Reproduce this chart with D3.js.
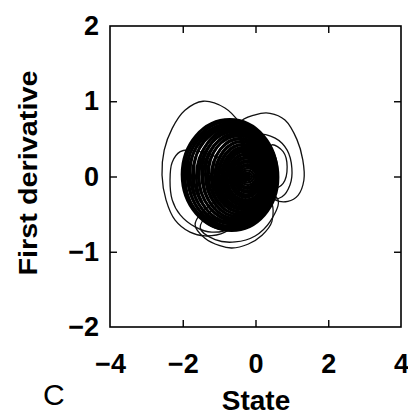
<!DOCTYPE html>
<html>
<head>
<meta charset="utf-8">
<script src="https://cdn.jsdelivr.net/npm/d3@7"></script>
<style>
body { margin: 0; background: #fff; }
text { font-family: "Liberation Sans", Arial, sans-serif; fill: #000; }
</style>
</head>
<body>
<svg width="408" height="416"></svg>
<script>
var xTicks = [-4, -2, 0, 2, 4];
var yTicks = [-2, -1, 0, 1, 2];

// dense core: each turn of the orbit given by its extremes
var coreLeft   = [-2.02,-1.97,-1.93,-1.88,-1.84,-1.80,-1.74,-1.70,-1.63,-1.58,-1.55,-1.48,-1.44,-1.38,-1.33,-1.29,-1.22,-1.18,-1.12,-1.08,-1.03,-0.99,-0.94,-0.90,-0.86,-0.81,-0.77,-0.72,-0.69,-0.64,-0.60,-0.56,-0.52,-0.48,-0.44,-0.40,-0.36,-0.32,-0.30];
var coreRight  = [0.60,0.56,0.62,0.52,0.58,0.49,0.55,0.47,0.53,0.44,0.50,0.42,0.47,0.39,0.45,0.36,0.41,0.34,0.38,0.31,0.35,0.28,0.30,0.25,0.27,0.21,0.23,0.17,0.19,0.13,0.14,0.09,0.08,0.03,0.02,-0.04,-0.10,-0.16,-0.20];
var coreTop    = [0.76,0.73,0.70,0.74,0.68,0.71,0.66,0.69,0.63,0.65,0.60,0.62,0.57,0.58,0.54,0.55,0.50,0.51,0.47,0.46,0.43,0.42,0.39,0.37,0.35,0.33,0.30,0.29,0.26,0.24,0.21,0.19,0.16,0.14,0.11,0.08,0.05,0.03,0.01];
var coreBottom = [-0.71,-0.68,-0.72,-0.66,-0.69,-0.63,-0.67,-0.61,-0.64,-0.58,-0.60,-0.56,-0.57,-0.53,-0.54,-0.50,-0.51,-0.47,-0.47,-0.44,-0.43,-0.41,-0.39,-0.37,-0.35,-0.33,-0.31,-0.28,-0.26,-0.24,-0.21,-0.19,-0.16,-0.14,-0.11,-0.08,-0.05,-0.03,-0.01];

// excursions outside the core
var loopBigLeft = [[-0.43,0.71],[-0.84,0.91],[-1.44,1.00],[-1.94,0.88],[-2.29,0.64],[-2.51,0.35],[-2.57,0.02],[-2.46,-0.31],[-2.21,-0.58],[-1.80,-0.74],[-1.39,-0.79],[-0.84,-0.74],[-0.29,-0.51],[-0.01,-0.05],[-0.10,0.42]];
var loopBigRight = [[-0.43,0.71],[-0.01,0.82],[0.40,0.84],[0.81,0.75],[1.14,0.49],[1.30,0.22],[1.33,-0.05],[1.17,-0.25],[0.89,-0.33],[0.54,-0.31],[0.18,-0.11],[-0.01,0.22]];
var loopRight2 = [[0.07,0.55],[0.54,0.51],[0.87,0.35],[1.00,0.11],[0.95,-0.11],[0.73,-0.27],[0.45,-0.29],[0.26,-0.11],[0.18,0.22]];
var loopRight3 = [[0.45,0.42],[0.76,0.33],[0.87,0.13],[0.76,-0.09],[0.54,-0.15],[0.34,0.02],[0.34,0.25]];
var loopLeft2 = [[-1.80,0.35],[-2.07,0.33],[-2.29,0.19],[-2.35,-0.05],[-2.29,-0.31],[-2.07,-0.51],[-1.66,-0.67],[-1.20,-0.74],[-0.70,-0.68],[-0.43,-0.31],[-0.70,0.15]];
var loopBottom1 = [[-1.66,-0.64],[-1.39,-0.82],[-0.98,-0.92],[-0.65,-0.95],[-0.21,-0.90],[0.18,-0.78],[0.45,-0.60],[0.40,-0.31],[-0.43,-0.18],[-1.25,-0.38]];
var loopBottom2 = [[-1.52,-0.68],[-1.11,-0.84],[-0.56,-0.87],[-0.01,-0.79],[0.40,-0.60],[0.62,-0.31],[0.12,-0.18],[-0.84,-0.31]];
var outerLoops = [loopBigLeft, loopBigRight, loopRight2, loopRight3, loopLeft2, loopBottom1, loopBottom2];

var svg = d3.select("svg");
var x = d3.scaleLinear().domain([-4, 4]).range([110, 401]);
var y = d3.scaleLinear().domain([-2, 2]).range([327, 26]);

// orbit
var outerLine = d3.line()
    .x(function (d) { return x(d[0]); })
    .y(function (d) { return y(d[1]); })
    .curve(d3.curveCatmullRomClosed);

svg.append("g").selectAll("path")
    .data(outerLoops)
    .enter().append("path")
    .attr("d", outerLine)
    .attr("fill", "none")
    .attr("stroke", "#111")
    .attr("stroke-width", 1.3);

var ellipseLine = d3.line()
    .x(function (d) { return x(d[0]); })
    .y(function (d) { return y(d[1]); })
    .curve(d3.curveCardinalClosed.tension(-0.657));

var coreLoops = coreLeft.map(function (l, i) {
  var r = coreRight[i], t = coreTop[i], b = coreBottom[i];
  var mx = (l + r) / 2, my = (t + b) / 2;
  return [[r, my], [mx, t], [l, my], [mx, b]];
});

svg.append("g").selectAll("path")
    .data(coreLoops)
    .enter().append("path")
    .attr("d", ellipseLine)
    .attr("fill", "none")
    .attr("stroke", "#000")
    .attr("stroke-width", 2.7);

// frame
svg.append("rect")
    .attr("x", x(-4)).attr("y", y(2))
    .attr("width", x(4) - x(-4)).attr("height", y(-2) - y(2))
    .attr("fill", "none").attr("stroke", "#000").attr("stroke-width", 1.6);

var inner = [-2, 0, 2], innerY = [-1, 0, 1];
function ticksOnly(g) { g.select(".domain").remove(); g.selectAll("text").remove(); g.selectAll("line").attr("stroke-width", 1.4); }
svg.append("g").attr("transform", "translate(0," + y(-2) + ")")
   .call(d3.axisTop(x).tickValues(inner).tickSize(7)).call(ticksOnly);
svg.append("g").attr("transform", "translate(0," + y(2) + ")")
   .call(d3.axisBottom(x).tickValues(inner).tickSize(7)).call(ticksOnly);
svg.append("g").attr("transform", "translate(" + x(-4) + ",0)")
   .call(d3.axisRight(y).tickValues(innerY).tickSize(7)).call(ticksOnly);
svg.append("g").attr("transform", "translate(" + x(4) + ",0)")
   .call(d3.axisLeft(y).tickValues(innerY).tickSize(7)).call(ticksOnly);

// tick labels
var fmt = d3.format("d");
var gx = svg.append("g").attr("transform", "translate(0," + y(-2) + ")")
   .call(d3.axisBottom(x).tickValues(xTicks).tickFormat(fmt).tickSize(0).tickPadding(27));
gx.select(".domain").remove();
gx.selectAll("text").attr("font-family", null).style("font-size", "27px").style("font-weight", "bold");

var gy = svg.append("g").attr("transform", "translate(" + x(-4) + ",0)")
   .call(d3.axisLeft(y).tickValues(yTicks).tickFormat(fmt).tickSize(0).tickPadding(11));
gy.select(".domain").remove();
gy.selectAll("text").attr("font-family", null).style("font-size", "27px").style("font-weight", "bold");

// titles
svg.append("text")
    .attr("x", 256).attr("y", 410)
    .attr("text-anchor", "middle")
    .style("font-size", "28px").style("font-weight", "bold")
    .text("State");

svg.append("text")
    .attr("transform", "translate(37,173) rotate(-90)")
    .attr("text-anchor", "middle")
    .attr("textLength", 205).attr("lengthAdjust", "spacingAndGlyphs")
    .style("font-size", "26px").style("font-weight", "bold")
    .text("First derivative");

svg.append("text")
    .attr("x", 43).attr("y", 405)
    .style("font-size", "30px")
    .text("C");
</script>
</body>
</html>
